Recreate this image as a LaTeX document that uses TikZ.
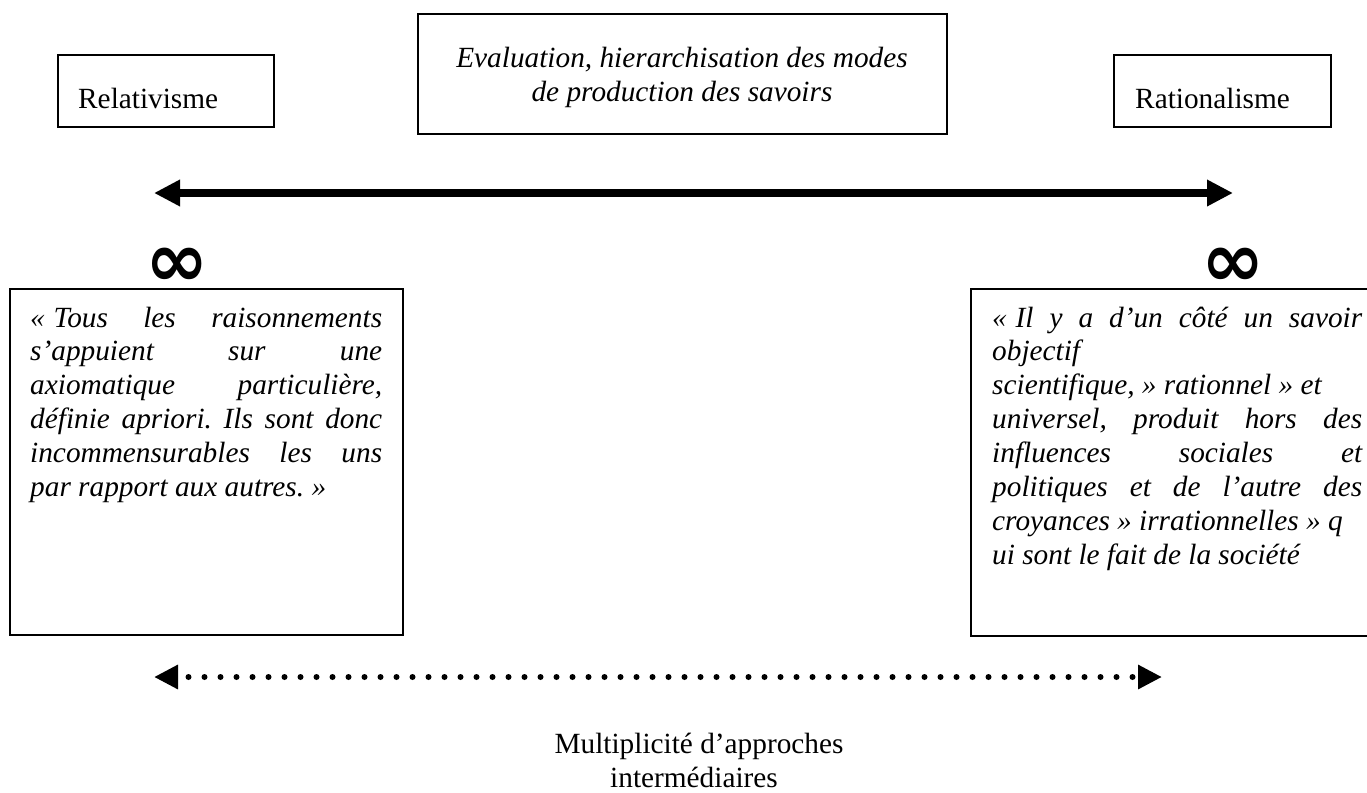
\documentclass[tikz,border=0pt]{standalone}
\usepackage{fontspec}
\setmainfont{Liberation Serif}[ItalicFont={Liberation Serif Italic}]
\newfontfamily\symfont{DejaVu Sans}
\usetikzlibrary{arrows.meta}
\newcommand{\jl}[2]{\makebox[#1][s]{#2}}
\newcommand{\plainspaces}{\spaceskip=0pt\xspaceskip=0pt\frenchspacing}
\begin{document}
\begin{tikzpicture}[x=1pt,y=-1pt,
  box/.style={draw=black, line width=2.5pt},
  lbl/.style={font=\fontsize{29.3}{33.9}\selectfont, inner sep=0pt, anchor=base west},
  ital/.style={font=\fontsize{29.3}{33.9}\selectfont\itshape, inner sep=0pt, anchor=base},
  quote/.style={font=\fontsize{29.3}{33.9}\selectfont\itshape, inner sep=0pt, anchor=base west, align=justify},
  inf/.style={font=\symfont\bfseries\fontsize{76}{80}\selectfont, inner sep=0pt},
  bigarrow/.style={line width=8pt, {Triangle[length=26pt,width=25pt]}-{Triangle[length=26pt,width=25pt]}},
  dotarrow/.style={line width=6pt, line cap=round, dash pattern=on 0pt off 16pt, dash phase=4pt, {Triangle[length=24pt,width=23pt]}-{Triangle[length=24pt,width=23pt]}}
]
\useasboundingbox[fill=white] (0,0) rectangle (1367,792);

% top boxes
\draw[box] (58,55) rectangle (274,127);
\node[lbl] (rel) at (78,108) {Relativisme};
\draw[box] (1114,55) rectangle (1331,127);
\node[lbl] (rat) at (1135,108) {Rationalisme};
\draw[box] (418,14) rectangle (947,134);
\node[ital] (ev1) at (682,67) {Evaluation, hierarchisation des modes};
\node[ital] (ev2) at (682,101) {de production des savoirs};

% thick double arrow
\coordinate (tl) at (154,193);
\coordinate (tr) at (1233,193);
\draw[bigarrow] (tl) -- (tr);

% infinity signs
\node[inf] (infl) at (177,267) {∞};
\node[inf] (infr) at (1233,267) {∞};

% left quote box
\draw[box] (10,289) rectangle (403,635);
\node[quote, text width=352pt] (lq) at (30,327) {\plainspaces
\jl{352pt}{«\kern0.3em Tous les raisonnements}\\
\jl{352pt}{s’appuient sur une}\\
\jl{352pt}{axiomatique particulière,}\\
\jl{352pt}{définie apriori. Ils sont donc}\\
\jl{352pt}{incommensurables les uns}\\
par rapport aux autres. »};

% right quote box (continues past the right edge)
\draw[box] (1368,289) -- (971,289) -- (971,636) -- (1368,636);
\node[quote, text width=370pt] (rq) at (992,327) {\plainspaces
\jl{370pt}{«\kern0.3em Il y a d’un côté un savoir}\\
objectif\\
scientifique, » rationnel » et\\
\jl{370pt}{universel, produit hors des}\\
\jl{370pt}{influences sociales et}\\
\jl{370pt}{politiques et de l’autre des}\\
croyances » irrationnelles » q\\
ui sont le fait de la société};

% dotted double arrow
\coordinate (dl) at (154,677);
\coordinate (dr) at (1162,677);
\draw[dotarrow] (dl) -- (dr);

% bottom label
\node[lbl, anchor=base] (m1) at (699,753) {Multiplicité d’approches};
\node[lbl, anchor=base] (m2) at (694,787) {intermédiaires};
\end{tikzpicture}
\end{document}
